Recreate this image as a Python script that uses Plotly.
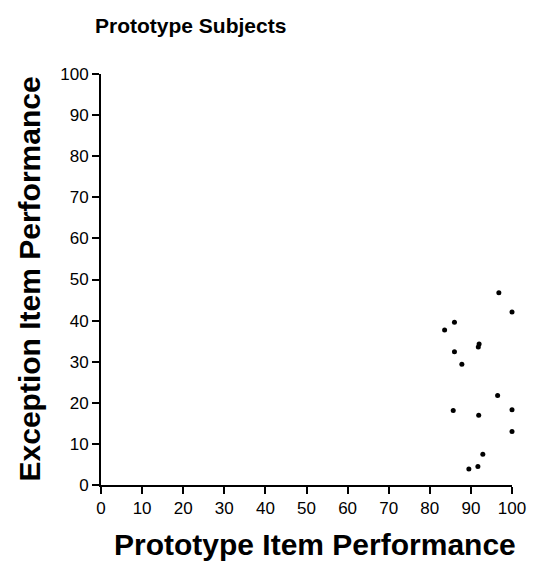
import plotly.graph_objects as go

prototype_perf = [96.8, 100.0, 86.0, 83.6, 92.0, 91.8, 86.0, 87.8, 96.5, 85.7, 100.0, 91.9, 100.0, 92.9, 89.5, 91.7]
exception_perf = [46.8, 42.1, 39.6, 37.7, 34.3, 33.6, 32.4, 29.4, 21.8, 18.1, 18.3, 17.0, 13.0, 7.5, 3.9, 4.5]
tick_vals = [0, 10, 20, 30, 40, 50, 60, 70, 80, 90, 100]

font_fam = "Liberation Sans, Arial, sans-serif"

fig = go.Figure()
fig.add_trace(go.Scatter(
    x=prototype_perf, y=exception_perf, mode="markers",
    marker=dict(color="black", size=5),
    cliponaxis=False, showlegend=False,
))

axis_common = dict(
    range=[0, 100], tickvals=tick_vals, ticks="outside", ticklen=7, tickwidth=1.5,
    tickcolor="black", showline=True, linecolor="black", linewidth=2,
    showgrid=False, zeroline=False, automargin=False,
    tickfont=dict(family=font_fam, size=17, color="black"),
)

# page body adds an 8px offset; figure coords = screen coords - 8
fig.update_layout(
    width=536, height=561,
    margin=dict(l=93, r=32, t=66, b=84),
    paper_bgcolor="white", plot_bgcolor="white",
    title=dict(text="<b>Prototype Subjects</b>", x=87/536, xanchor="left",
               y=1-18/561, yanchor="middle",
               font=dict(family=font_fam, size=21, color="black")),
    xaxis=axis_common,
    yaxis=axis_common,
    annotations=[
        dict(text="<b>Prototype Item Performance</b>", xref="paper", yref="paper",
             x=0.5, y=0, xshift=8, yshift=-59, xanchor="center", yanchor="middle",
             showarrow=False, font=dict(family=font_fam, size=30, color="black")),
        dict(text="<b>Exception Item Performance</b>", xref="paper", yref="paper",
             x=0, y=0.5, xshift=-72, yshift=0, xanchor="center", yanchor="middle",
             textangle=-90, showarrow=False,
             font=dict(family=font_fam, size=30, color="black")),
    ],
)

fig.write_html("out.html")
